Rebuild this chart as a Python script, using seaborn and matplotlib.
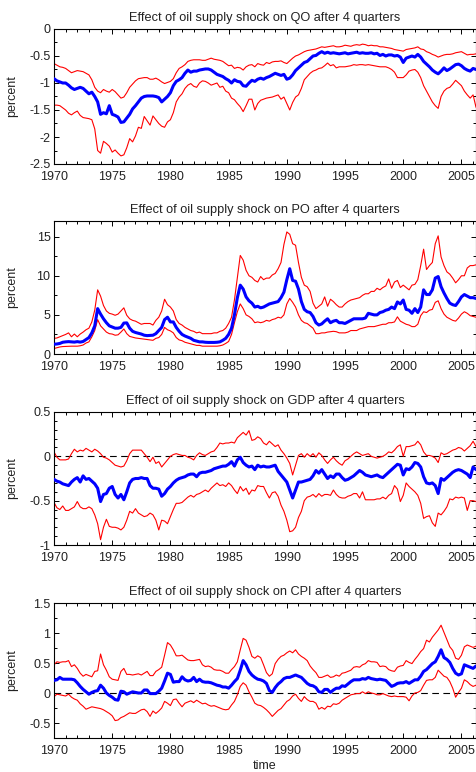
import numpy as np
import pandas as pd
import matplotlib
matplotlib.use("Agg")
import matplotlib.pyplot as plt
from matplotlib.ticker import MultipleLocator, FuncFormatter
import seaborn as sns

# Quarterly sample 1970Q1 .. 2006Q2
first_year = 1970.0
n_quarters = 146

panel_titles = [
    "Effect of oil supply shock on QO after 4 quarters",
    "Effect of oil supply shock on PO after 4 quarters",
    "Effect of oil supply shock on GDP after 4 quarters",
    "Effect of oil supply shock on CPI after 4 quarters",
]
x_ticks = [1970, 1975, 1980, 1985, 1990, 1995, 2000, 2005]

# ---- QO: median response and error bands ----
qo_median = [
    -0.92, -0.96, -0.98, -1.00,
    -1.00, -1.04, -1.09, -1.12,
    -1.10, -1.08, -1.10, -1.15,
    -1.20, -1.17, -1.25, -1.35,
    -1.58, -1.55, -1.57, -1.42,
    -1.58, -1.60, -1.63, -1.73,
    -1.72, -1.65, -1.58, -1.48,
    -1.42, -1.35, -1.28, -1.25,
    -1.24, -1.24, -1.24, -1.25,
    -1.27, -1.35, -1.30, -1.25,
    -1.18, -1.05, -0.97, -0.94,
    -0.90, -0.82, -0.76, -0.80,
    -0.78, -0.78, -0.76, -0.75,
    -0.74, -0.74, -0.76, -0.80,
    -0.84, -0.86, -0.88, -0.92,
    -0.95, -1.00, -0.94, -0.97,
    -0.98, -1.05, -1.06, -1.00,
    -0.95, -0.97, -0.93, -0.91,
    -0.93, -0.90, -0.88, -0.85,
    -0.82, -0.84, -0.86, -0.84,
    -0.93, -0.91, -0.85, -0.77,
    -0.72, -0.67, -0.62, -0.60,
    -0.55, -0.50, -0.49, -0.45,
    -0.42, -0.45, -0.43, -0.45,
    -0.44, -0.45, -0.46, -0.45,
    -0.44, -0.46, -0.45, -0.44,
    -0.43, -0.45, -0.44, -0.45,
    -0.45, -0.44, -0.46, -0.45,
    -0.49, -0.47, -0.50, -0.48,
    -0.48, -0.50, -0.49, -0.52,
    -0.62, -0.54, -0.52, -0.50,
    -0.52, -0.47, -0.52, -0.60,
    -0.65, -0.70, -0.76, -0.80,
    -0.83, -0.78, -0.72, -0.77,
    -0.74, -0.70, -0.66, -0.65,
    -0.68, -0.73, -0.76, -0.78,
    -0.73, -0.75,
]
qo_upper = [
    -0.64, -0.67, -0.70, -0.71,
    -0.73, -0.77, -0.81, -0.79,
    -0.77, -0.78, -0.79, -0.82,
    -0.85, -0.94, -1.08, -1.15,
    -1.18, -1.12, -1.15, -1.17,
    -1.12, -1.16, -1.22, -1.28,
    -1.26, -1.18, -1.08, -1.02,
    -0.96, -0.92, -0.91, -0.90,
    -0.90, -0.93, -0.93, -0.91,
    -0.94, -0.98, -1.01, -0.99,
    -0.97, -0.92, -0.81, -0.73,
    -0.70, -0.66, -0.60, -0.58,
    -0.57, -0.57, -0.57, -0.58,
    -0.58, -0.56, -0.54, -0.56,
    -0.57, -0.58, -0.60, -0.64,
    -0.68, -0.67, -0.73, -0.71,
    -0.72, -0.76, -0.70, -0.67,
    -0.66, -0.70, -0.64, -0.66,
    -0.67, -0.62, -0.64, -0.61,
    -0.60, -0.60, -0.59, -0.62,
    -0.64, -0.59, -0.54, -0.50,
    -0.48, -0.45, -0.42, -0.40,
    -0.39, -0.38, -0.37, -0.35,
    -0.33, -0.34, -0.33, -0.32,
    -0.31, -0.33, -0.33, -0.32,
    -0.30, -0.31, -0.32, -0.30,
    -0.29, -0.30, -0.28, -0.29,
    -0.31, -0.30, -0.31, -0.31,
    -0.33, -0.33, -0.34, -0.35,
    -0.36, -0.38, -0.39, -0.40,
    -0.41, -0.38, -0.37, -0.36,
    -0.35, -0.33, -0.37, -0.38,
    -0.42, -0.44, -0.47, -0.49,
    -0.52, -0.50, -0.48, -0.47,
    -0.47, -0.46, -0.44, -0.43,
    -0.42, -0.45, -0.48, -0.47,
    -0.47, -0.46,
]
qo_lower = [
    -1.41, -1.41, -1.42, -1.46,
    -1.50, -1.56, -1.59, -1.55,
    -1.52, -1.60, -1.64, -1.65,
    -1.66, -1.68, -1.85, -2.25,
    -2.30, -2.08, -2.12, -2.17,
    -2.28, -2.24, -2.30, -2.35,
    -2.33, -2.20, -2.03, -2.09,
    -1.98, -1.82, -1.84, -1.62,
    -1.70, -1.78, -1.61, -1.68,
    -1.75, -1.80, -1.82, -1.72,
    -1.68, -1.55, -1.35, -1.26,
    -1.20, -1.10, -1.04, -1.01,
    -1.06, -1.08, -1.00, -0.96,
    -0.97, -1.00, -1.04, -1.02,
    -1.00, -1.08, -1.06, -1.15,
    -1.18, -1.28, -1.31, -1.38,
    -1.44, -1.53, -1.42, -1.30,
    -1.30, -1.50, -1.38, -1.32,
    -1.30, -1.28, -1.27, -1.26,
    -1.24, -1.22, -1.30, -1.26,
    -1.38, -1.50, -1.36, -1.26,
    -1.22, -1.10, -0.94, -0.88,
    -0.82, -0.78, -0.76, -0.73,
    -0.72, -0.68, -0.63, -0.68,
    -0.66, -0.72, -0.70, -0.70,
    -0.70, -0.69, -0.68, -0.66,
    -0.67, -0.66, -0.66, -0.67,
    -0.66, -0.67, -0.68, -0.69,
    -0.70, -0.70, -0.70, -0.72,
    -0.75, -0.80, -0.90, -0.90,
    -0.90, -0.85, -0.78, -0.76,
    -0.75, -0.80, -0.90, -1.05,
    -1.15, -1.25, -1.35, -1.42,
    -1.47, -1.25, -1.15, -1.10,
    -1.08, -1.02, -0.95, -1.00,
    -1.05, -1.15, -1.22, -1.28,
    -1.22, -1.45,
]

# ---- PO ----
po_median = [
    1.25, 1.28, 1.35, 1.50,
    1.55, 1.58, 1.55, 1.52,
    1.58, 1.52, 1.60, 1.85,
    2.10, 2.70, 3.60, 5.80,
    5.10, 4.50, 4.00, 3.60,
    3.45, 3.30, 3.30, 3.40,
    3.95, 3.98, 3.30, 2.90,
    2.75, 2.65, 2.55, 2.40,
    2.35, 2.38, 2.40, 2.60,
    3.00, 3.40, 4.40, 4.70,
    4.10, 4.10, 3.40, 2.90,
    2.50, 2.30, 2.15, 2.00,
    1.75, 1.65, 1.55, 1.55,
    1.50, 1.48, 1.48, 1.48,
    1.50, 1.55, 1.75, 2.00,
    2.50, 3.30, 5.00, 7.20,
    8.80, 8.30, 7.30, 6.80,
    6.50, 6.00, 6.10, 5.90,
    6.00, 6.20, 6.40, 6.50,
    6.60, 6.70, 7.20, 7.90,
    9.50, 10.90, 9.40, 9.30,
    8.30, 6.70, 5.70, 5.40,
    5.30, 4.80, 4.00, 3.70,
    3.85, 4.20, 4.50, 4.00,
    4.20, 4.30, 4.00, 4.00,
    3.90, 4.10, 4.30, 4.50,
    4.50, 4.50, 4.50, 4.60,
    5.20, 5.10, 5.00, 5.00,
    5.30, 5.40, 5.60, 5.70,
    6.00, 5.80, 6.65, 6.40,
    6.90, 5.70, 5.60, 5.20,
    5.80, 5.30, 6.00, 8.20,
    7.60, 7.60, 8.20, 9.70,
    9.90, 8.60, 7.80, 7.10,
    6.50, 6.30, 6.20, 6.70,
    7.30, 7.60, 7.40, 7.20,
    7.20, 7.10,
]
po_upper = [
    2.00, 2.05, 2.20, 2.35,
    2.50, 2.70, 2.20, 2.55,
    2.20, 2.55, 2.80, 3.10,
    3.30, 4.10, 5.60, 8.20,
    7.40, 6.20, 5.50, 5.20,
    5.10, 4.95, 5.10, 5.50,
    5.90, 4.95, 4.50, 4.30,
    4.20, 4.00, 3.80, 3.90,
    3.90, 3.90, 3.70, 4.30,
    4.70, 5.50, 7.00, 6.30,
    6.00, 5.50, 4.40, 3.90,
    3.70, 3.40, 3.20, 3.00,
    2.90, 2.70, 2.80, 2.60,
    2.60, 2.60, 2.60, 2.70,
    2.70, 2.90, 3.00, 3.30,
    3.90, 4.70, 6.90, 9.80,
    12.60, 12.00, 10.70, 10.00,
    9.80, 9.40, 9.20, 9.90,
    9.50, 9.70, 9.70, 10.10,
    10.30, 10.90, 11.70, 14.00,
    15.60, 15.30, 14.10, 13.90,
    11.70, 9.80, 8.80, 8.60,
    8.00, 6.50, 5.80, 6.10,
    6.40, 7.30, 6.10, 7.00,
    6.70, 6.30, 6.00, 6.00,
    6.40, 6.70, 6.90, 7.00,
    7.10, 7.20, 7.50, 7.70,
    7.70, 8.00, 8.00, 8.40,
    8.20, 8.50, 8.70, 9.60,
    8.40, 9.20, 9.40, 8.50,
    8.80, 8.50, 8.20, 8.80,
    8.90, 9.50, 11.30, 13.40,
    10.80, 11.30, 11.70, 14.10,
    15.10, 12.40, 11.30, 10.50,
    10.20, 9.70, 9.10, 9.50,
    10.00, 10.00, 11.00, 11.30,
    11.30, 11.40,
]
po_lower = [
    0.70, 0.80, 0.90, 0.95,
    0.97, 0.98, 1.00, 1.00,
    1.00, 1.05, 1.15, 1.40,
    1.55, 2.20, 3.00, 4.40,
    3.60, 3.20, 2.80, 2.60,
    2.55, 2.40, 2.45, 2.80,
    3.20, 2.60, 2.25, 2.15,
    2.05, 2.00, 1.95, 1.90,
    1.85, 1.80, 1.75, 2.00,
    2.10, 2.50, 3.40, 3.10,
    2.95, 2.70, 2.10, 1.80,
    1.70, 1.50, 1.40, 1.30,
    1.20, 1.10, 1.10, 1.00,
    1.00, 1.00, 1.00, 1.00,
    1.00, 1.05, 1.15, 1.35,
    1.60, 2.50, 4.00, 5.40,
    6.40, 5.80, 5.00, 4.80,
    4.50, 4.00, 4.10, 4.00,
    4.10, 4.30, 4.20, 4.40,
    4.50, 4.70, 4.60, 5.00,
    6.40, 7.10, 6.60, 6.00,
    5.00, 4.30, 4.00, 3.90,
    3.60, 3.30, 2.60, 2.60,
    2.70, 2.70, 2.80, 2.85,
    2.90, 2.85, 2.70, 2.70,
    2.70, 2.80, 3.00, 3.00,
    3.00, 3.20, 3.30, 3.40,
    3.50, 3.50, 3.50, 3.60,
    3.70, 3.80, 3.80, 4.00,
    4.00, 4.10, 4.75, 4.20,
    4.00, 3.80, 3.70, 3.50,
    3.50, 3.80, 4.90, 5.40,
    5.30, 5.60, 5.70, 6.60,
    6.80, 5.80, 5.10, 4.70,
    4.50, 4.30, 4.20, 4.60,
    5.10, 5.40, 5.20, 4.90,
    4.80, 4.70,
]

# ---- GDP ----
gdp_median = [
    -0.26, -0.28, -0.29, -0.31,
    -0.32, -0.33, -0.29, -0.26,
    -0.24, -0.29, -0.22, -0.26,
    -0.25, -0.28, -0.31, -0.36,
    -0.51, -0.43, -0.42, -0.36,
    -0.34, -0.43, -0.47, -0.43,
    -0.49, -0.40, -0.30, -0.26,
    -0.25, -0.25, -0.24, -0.25,
    -0.25, -0.33, -0.36, -0.36,
    -0.37, -0.45, -0.42, -0.37,
    -0.34, -0.30, -0.27, -0.25,
    -0.24, -0.23, -0.21, -0.20,
    -0.20, -0.23, -0.19, -0.18,
    -0.18, -0.17, -0.16, -0.14,
    -0.13, -0.12, -0.11, -0.11,
    -0.09, -0.06, -0.11, -0.04,
    -0.01, -0.07, -0.10, -0.12,
    -0.11, -0.15, -0.10, -0.12,
    -0.11, -0.12, -0.12, -0.11,
    -0.10, -0.17, -0.21, -0.25,
    -0.29, -0.38, -0.47, -0.38,
    -0.29, -0.29, -0.28, -0.27,
    -0.26, -0.22, -0.16, -0.19,
    -0.15, -0.20, -0.25, -0.22,
    -0.24, -0.20, -0.20, -0.24,
    -0.27, -0.26, -0.24, -0.22,
    -0.19, -0.16, -0.18, -0.21,
    -0.22, -0.23, -0.22, -0.21,
    -0.23, -0.24, -0.21, -0.18,
    -0.15, -0.12, -0.09, -0.10,
    -0.21, -0.14, -0.15, -0.12,
    -0.07, -0.08, -0.12, -0.23,
    -0.30, -0.31, -0.30, -0.33,
    -0.42, -0.25, -0.27, -0.24,
    -0.21, -0.18, -0.16, -0.15,
    -0.16, -0.18, -0.20, -0.24,
    -0.12, -0.15,
]
gdp_upper = [
    0.05, -0.01, -0.04, -0.04,
    -0.04, -0.03, 0.03, 0.08,
    0.05, 0.07, 0.06, 0.09,
    0.07, 0.05, 0.08, 0.06,
    0.03, -0.01, -0.02, -0.04,
    -0.07, -0.10, -0.11, -0.12,
    -0.11, -0.05, 0.03, 0.07,
    0.07, 0.07, 0.07, 0.03,
    -0.01, -0.06, -0.01, -0.08,
    -0.06, -0.12, -0.08, -0.04,
    0.00, 0.02, 0.03, 0.02,
    0.01, 0.01, -0.01, -0.02,
    -0.04, 0.01, 0.04, 0.02,
    0.01, 0.03, 0.05, 0.06,
    0.10, 0.15, 0.14, 0.15,
    0.15, 0.16, 0.15, 0.21,
    0.24, 0.27, 0.24, 0.29,
    0.18, 0.19, 0.22, 0.20,
    0.15, 0.13, 0.17, 0.14,
    0.11, 0.13, 0.07, 0.03,
    -0.02, -0.08, -0.21, -0.10,
    0.01, 0.03, -0.01, 0.03,
    0.00, 0.03, -0.01, 0.04,
    0.01, -0.04, -0.08, -0.04,
    -0.01, -0.05, -0.08, -0.10,
    -0.05, -0.03, 0.00, 0.03,
    0.05, 0.03, 0.01, 0.02,
    0.03, 0.00, -0.01, -0.02,
    -0.01, 0.00, 0.02, 0.05,
    0.04, 0.07, 0.11, 0.13,
    0.00, 0.11, 0.11, 0.12,
    0.13, 0.17, 0.13, 0.05,
    0.01, 0.01, 0.00, -0.02,
    -0.07, 0.04, 0.02, 0.03,
    0.05, 0.07, 0.08, 0.10,
    0.09, 0.06, 0.09, 0.12,
    0.17, 0.11,
]
gdp_lower = [
    -0.52, -0.58, -0.60, -0.56,
    -0.61, -0.61, -0.59, -0.57,
    -0.51, -0.57, -0.59, -0.59,
    -0.57, -0.59, -0.66, -0.76,
    -0.94, -0.80, -0.71, -0.79,
    -0.80, -0.80, -0.81, -0.83,
    -0.80, -0.72, -0.62, -0.64,
    -0.59, -0.64, -0.66, -0.68,
    -0.67, -0.64, -0.66, -0.72,
    -0.83, -0.72, -0.73, -0.76,
    -0.68, -0.60, -0.53, -0.53,
    -0.52, -0.49, -0.46, -0.44,
    -0.46, -0.43, -0.42, -0.40,
    -0.38, -0.40, -0.36, -0.33,
    -0.30, -0.33, -0.32, -0.34,
    -0.30, -0.33, -0.38, -0.42,
    -0.34, -0.39, -0.36, -0.43,
    -0.38, -0.39, -0.33, -0.34,
    -0.34, -0.41, -0.47, -0.41,
    -0.40, -0.45, -0.55, -0.62,
    -0.72, -0.85, -0.84, -0.80,
    -0.69, -0.62, -0.50, -0.46,
    -0.45, -0.43, -0.46, -0.42,
    -0.45, -0.43, -0.43, -0.44,
    -0.38, -0.43, -0.46, -0.47,
    -0.47, -0.45, -0.44, -0.42,
    -0.42, -0.47, -0.40, -0.49,
    -0.49, -0.49, -0.49, -0.48,
    -0.48, -0.46, -0.48, -0.44,
    -0.42, -0.33, -0.37, -0.51,
    -0.44, -0.30, -0.34, -0.37,
    -0.40, -0.44, -0.53, -0.70,
    -0.68, -0.67, -0.75, -0.79,
    -0.64, -0.66, -0.62, -0.57,
    -0.48, -0.49, -0.46, -0.47,
    -0.46, -0.47, -0.61, -0.50,
    -0.50, -0.51,
]

# ---- CPI ----
cpi_median = [
    0.21, 0.22, 0.26, 0.23,
    0.23, 0.23, 0.23, 0.22,
    0.17, 0.11, 0.06, 0.02,
    -0.02, 0.01, 0.03, 0.04,
    0.13, 0.08, 0.00, -0.04,
    -0.07, -0.11, -0.12, 0.03,
    0.02, -0.02, 0.00, 0.02,
    0.01, 0.00, 0.00, 0.05,
    0.05, -0.01, -0.01, -0.01,
    0.03, 0.08, 0.20, 0.33,
    0.31, 0.18, 0.19, 0.19,
    0.27, 0.22, 0.20, 0.21,
    0.26, 0.19, 0.23, 0.19,
    0.18, 0.18, 0.17, 0.15,
    0.13, 0.12, 0.10, 0.10,
    0.08, 0.13, 0.19, 0.24,
    0.38, 0.54, 0.47, 0.36,
    0.30, 0.26, 0.23, 0.22,
    0.20, 0.16, 0.04, 0.01,
    0.09, 0.15, 0.19, 0.24,
    0.26, 0.26, 0.28, 0.30,
    0.28, 0.26, 0.21, 0.16,
    0.13, 0.12, 0.09, 0.02,
    0.01, 0.06, 0.06, 0.01,
    0.05, 0.08, 0.08, 0.12,
    0.11, 0.15, 0.19, 0.22,
    0.22, 0.22, 0.24, 0.23,
    0.26, 0.24, 0.23, 0.22,
    0.23, 0.22, 0.21, 0.16,
    0.11, 0.13, 0.16, 0.17,
    0.17, 0.19, 0.16, 0.19,
    0.22, 0.22, 0.28, 0.36,
    0.39, 0.44, 0.49, 0.52,
    0.61, 0.72, 0.59, 0.56,
    0.51, 0.41, 0.33, 0.30,
    0.32, 0.47, 0.45, 0.43,
    0.41, 0.45,
]
cpi_upper = [
    0.47, 0.52, 0.51, 0.52,
    0.52, 0.54, 0.44, 0.47,
    0.41, 0.33, 0.28, 0.31,
    0.29, 0.27, 0.36, 0.37,
    0.65, 0.47, 0.38, 0.27,
    0.23, 0.22, 0.21, 0.36,
    0.41, 0.31, 0.31, 0.30,
    0.31, 0.32, 0.30, 0.33,
    0.36, 0.29, 0.29, 0.36,
    0.39, 0.43, 0.63, 0.84,
    0.80, 0.72, 0.62, 0.62,
    0.63, 0.59, 0.55, 0.54,
    0.54, 0.55, 0.56, 0.47,
    0.44, 0.45, 0.43, 0.39,
    0.38, 0.38, 0.36, 0.33,
    0.33, 0.39, 0.44, 0.52,
    0.72, 0.91, 0.88, 0.76,
    0.61, 0.58, 0.62, 0.59,
    0.47, 0.34, 0.28, 0.32,
    0.49, 0.56, 0.61, 0.63,
    0.67, 0.70, 0.67, 0.72,
    0.65, 0.61, 0.58, 0.54,
    0.45, 0.39, 0.34, 0.26,
    0.26, 0.28, 0.30, 0.26,
    0.27, 0.30, 0.28, 0.33,
    0.34, 0.36, 0.38, 0.43,
    0.44, 0.43, 0.47, 0.49,
    0.54, 0.52, 0.52, 0.51,
    0.44, 0.45, 0.44, 0.39,
    0.37, 0.36, 0.43, 0.45,
    0.46, 0.54, 0.51, 0.49,
    0.56, 0.62, 0.69, 0.74,
    0.88, 0.85, 0.93, 0.99,
    1.05, 1.13, 1.01, 0.89,
    0.77, 0.71, 0.58, 0.56,
    0.63, 0.77, 0.80, 0.78,
    0.76, 0.78,
]
cpi_lower = [
    -0.06, -0.02, -0.03, -0.04,
    -0.05, -0.02, -0.07, -0.10,
    -0.12, -0.18, -0.22, -0.27,
    -0.25, -0.23, -0.24, -0.25,
    -0.26, -0.28, -0.31, -0.34,
    -0.38, -0.46, -0.45, -0.41,
    -0.39, -0.36, -0.33, -0.34,
    -0.34, -0.31, -0.28, -0.27,
    -0.31, -0.39, -0.30, -0.34,
    -0.30, -0.25, -0.14, -0.17,
    -0.21, -0.11, -0.10, -0.17,
    -0.23, -0.17, -0.15, -0.13,
    -0.16, -0.12, -0.15, -0.18,
    -0.17, -0.20, -0.22, -0.21,
    -0.23, -0.25, -0.27, -0.28,
    -0.27, -0.20, -0.14, -0.03,
    0.11, 0.17, 0.13, 0.02,
    -0.07, -0.17, -0.20, -0.21,
    -0.24, -0.28, -0.33, -0.39,
    -0.34, -0.29, -0.26, -0.20,
    -0.14, -0.11, -0.05, -0.02,
    -0.09, -0.14, -0.06, -0.11,
    -0.14, -0.14, -0.17, -0.27,
    -0.24, -0.27, -0.22, -0.23,
    -0.18, -0.19, -0.17, -0.12,
    -0.09, -0.06, -0.03, -0.02,
    -0.01, -0.01, 0.02, -0.01,
    0.02, 0.00, -0.01, -0.03,
    -0.03, -0.01, -0.03, -0.05,
    -0.06, -0.05, -0.06, -0.06,
    -0.06, -0.07, -0.13, -0.05,
    0.00, 0.01, 0.04, 0.13,
    0.21, 0.22, 0.22, 0.26,
    0.38, 0.33, 0.28, 0.26,
    0.19, 0.08, -0.07, 0.01,
    0.08, 0.22, 0.19, 0.14,
    0.11, 0.13,
]

panels = [
    dict(median=qo_median, upper=qo_upper, lower=qo_lower,
         ylim=(-2.5, 0), major=0.5, minor=0.25, zero_line=False),
    dict(median=po_median, upper=po_upper, lower=po_lower,
         ylim=(0, 17), major=5, minor=2.5, zero_line=False),
    dict(median=gdp_median, upper=gdp_upper, lower=gdp_lower,
         ylim=(-1, 0.5), major=0.5, minor=0.1, zero_line=True),
    dict(median=cpi_median, upper=cpi_upper, lower=cpi_lower,
         ylim=(-0.75, 1.5), major=0.5, minor=0.25, zero_line=True),
]

sns.set_theme(style="ticks")
plt.rcParams["font.family"] = ["Liberation Sans", "DejaVu Sans"]
plt.rcParams["axes.unicode_minus"] = False

W, H = 477, 772
fig = plt.figure(figsize=(W / 100, H / 100), dpi=100)
fig.patch.set_facecolor("white")

# axes boxes in pixels: (top, bottom)
boxes = [(29, 164), (221, 354), (412, 545), (603, 738)]
left_px, right_px = 54, 476

time = first_year + 0.25 * np.arange(n_quarters)

for i, (spec, (top, bot)) in enumerate(zip(panels, boxes)):
    for key in ("median", "upper", "lower"):
        assert len(spec[key]) == n_quarters, (i, key, len(spec[key]))
    ax = fig.add_axes([left_px / W, 1 - bot / H, (right_px - left_px) / W, (bot - top) / H])
    ax.set_facecolor("white")
    df = pd.DataFrame({"time": time, "median": spec["median"],
                       "upper": spec["upper"], "lower": spec["lower"]})
    if spec["zero_line"]:
        ax.axhline(0, color="black", lw=0.8, ls=(0, (6, 4)), zorder=1)
    sns.lineplot(data=df, x="time", y="upper", color="#ff0000", lw=0.8, ax=ax, zorder=2)
    sns.lineplot(data=df, x="time", y="lower", color="#ff0000", lw=0.8, ax=ax, zorder=2)
    sns.lineplot(data=df, x="time", y="median", color="#0000ff", lw=2.2, ax=ax, zorder=3)

    ax.set_xlim(1970, 2006.25)
    ax.set_ylim(*spec["ylim"])
    ax.set_xticks(x_ticks)
    ax.xaxis.set_minor_locator(MultipleLocator(1))
    ax.yaxis.set_major_locator(MultipleLocator(spec["major"]))
    ax.yaxis.set_minor_locator(MultipleLocator(spec["minor"]))
    ax.yaxis.set_major_formatter(FuncFormatter(lambda v, p: f"{v:g}"))
    ax.tick_params(which="both", direction="in", top=True, right=True,
                   color="black", width=0.7)
    ax.tick_params(which="major", length=3.5, labelsize=9, labelcolor="#222222")
    ax.tick_params(axis="x", which="major", pad=5.3)
    ax.tick_params(axis="y", which="major", pad=2.5)
    ax.tick_params(which="minor", length=2.2)
    for sp in ax.spines.values():
        sp.set_visible(True)
        sp.set_color("black")
        sp.set_linewidth(0.8)

    ax.set_title(panel_titles[i], fontsize=9.2, pad=5.5, color="#222222")
    ax.set_ylabel("percent", fontsize=9, color="#222222")
    ax.yaxis.set_label_coords(-0.084, 0.5)
    if i == len(panels) - 1:
        ax.set_xlabel("time", fontsize=9, color="#222222")
        ax.xaxis.set_label_coords(0.5, -0.165)
    else:
        ax.set_xlabel("")

fig.savefig("out.png", dpi=100, facecolor="white")
